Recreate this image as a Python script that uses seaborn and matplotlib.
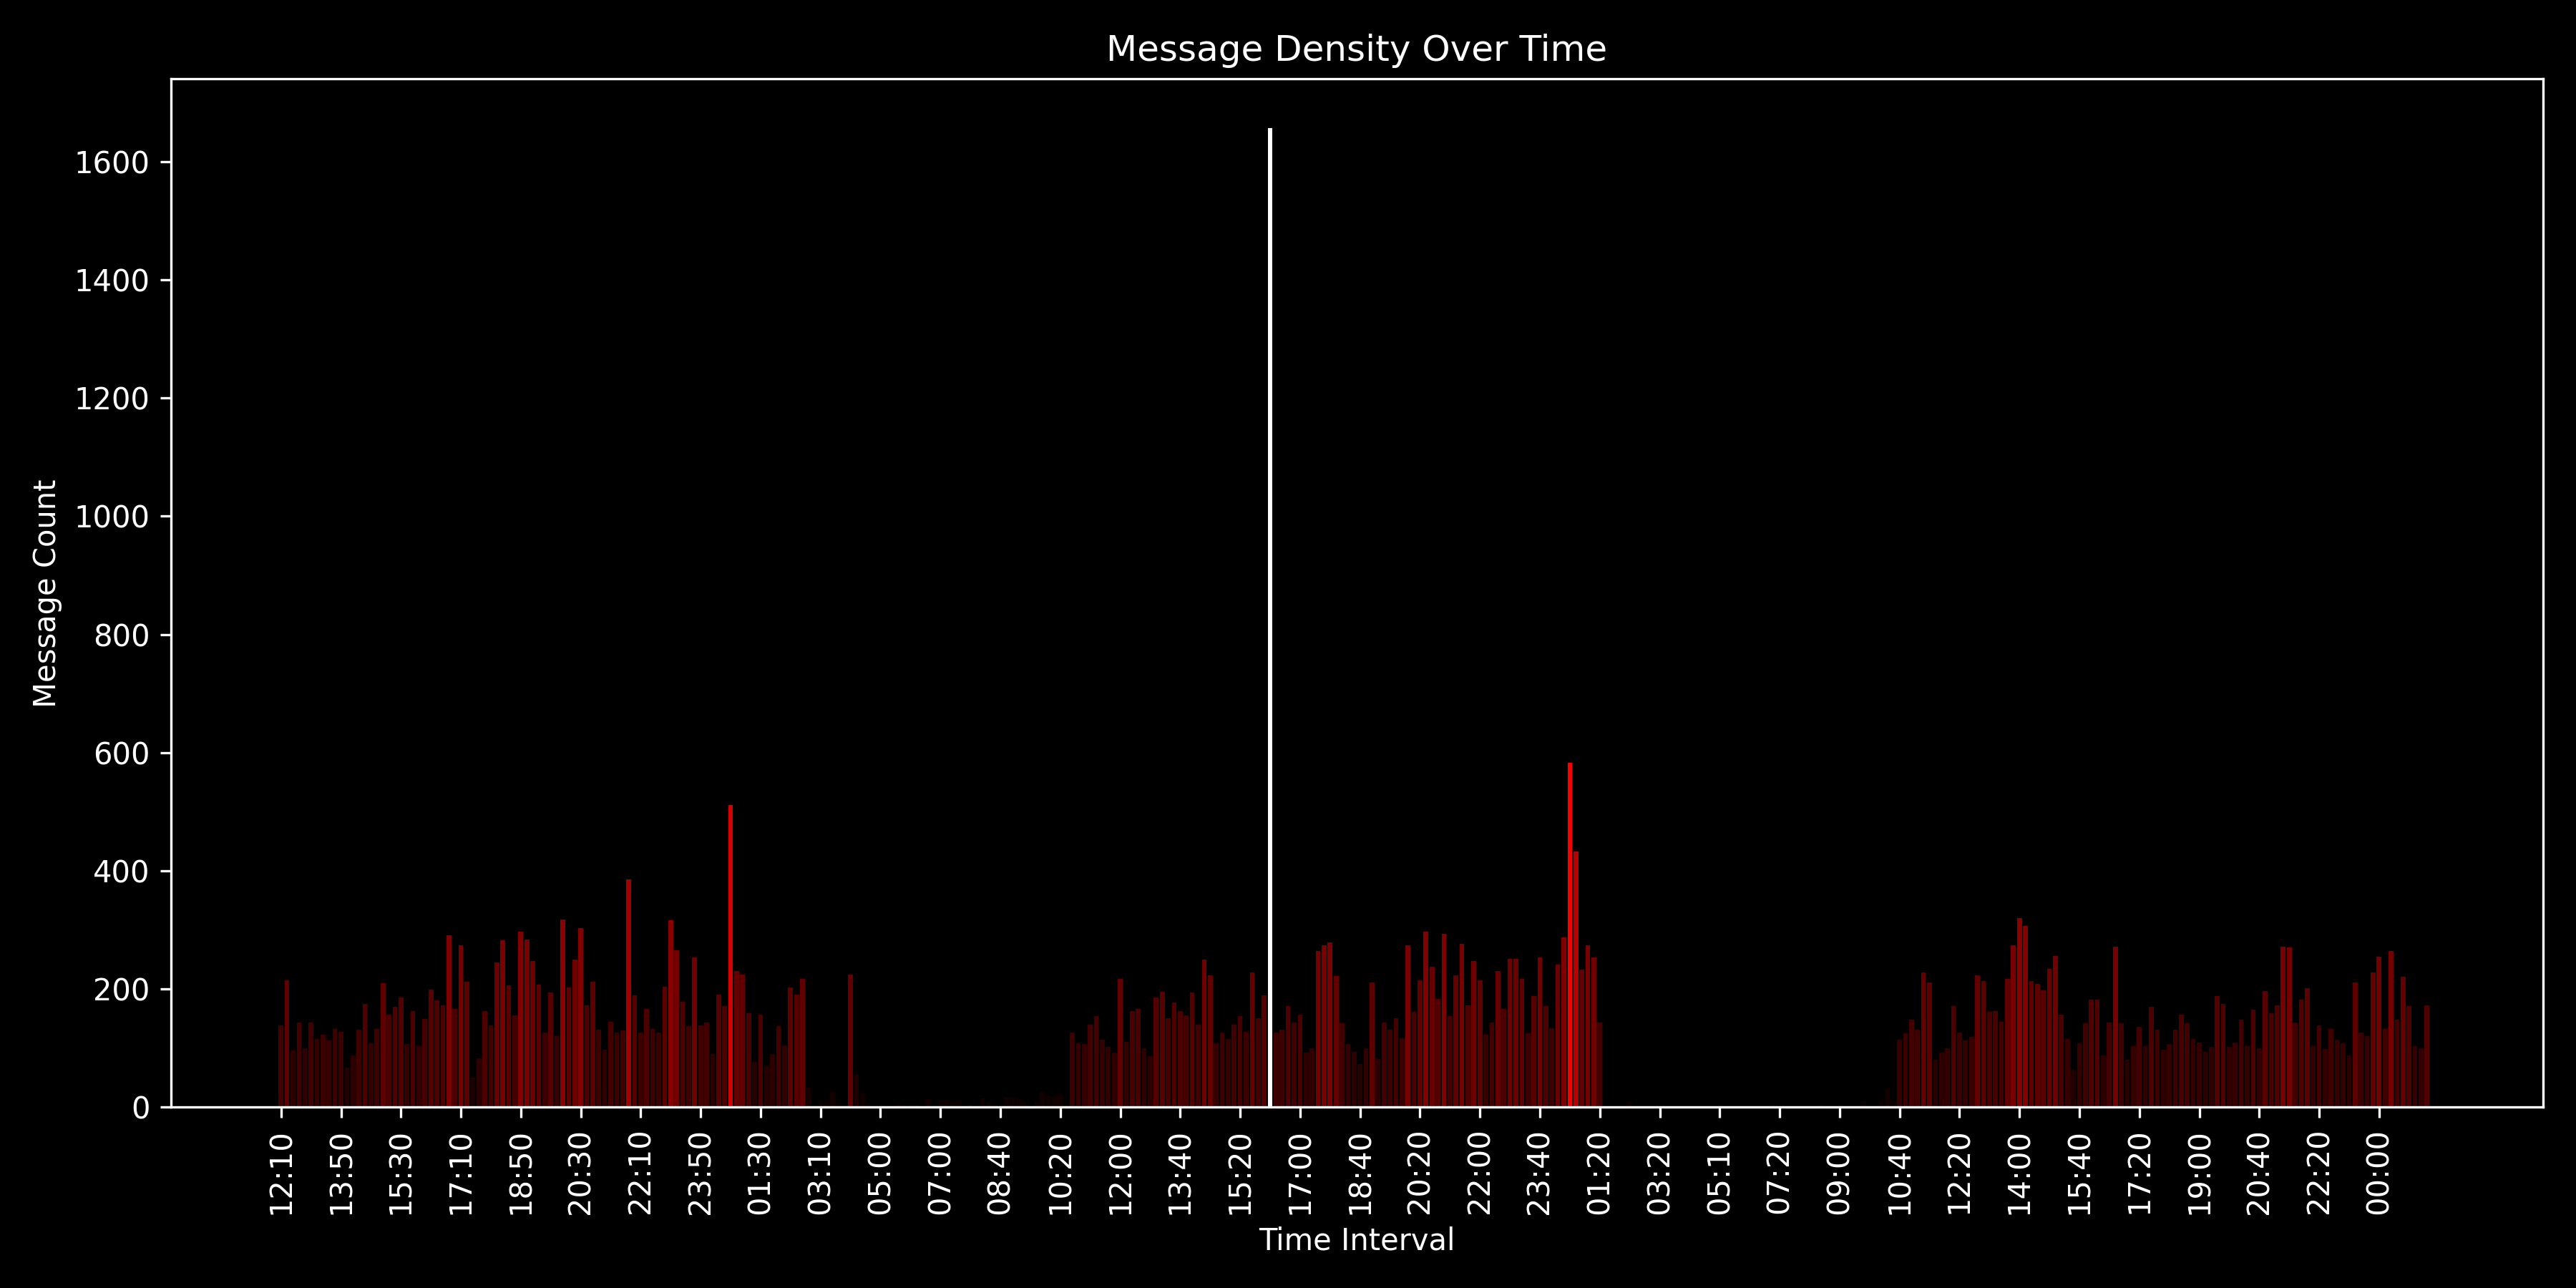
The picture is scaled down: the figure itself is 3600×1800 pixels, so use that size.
import numpy as np
import pandas as pd
import matplotlib
matplotlib.use("Agg")
import matplotlib.pyplot as plt
import seaborn as sns

# ---- data ----
counts_day1 = [138, 215, 96, 144, 100, 144, 115, 123, 113, 133, 128, 67, 88, 131, 175, 108, 133, 210, 157, 170,
               186, 107, 163, 103, 149, 199, 181, 172, 291, 166, 274, 212, 50, 83, 163, 138, 245, 282, 206, 155,
               297, 284, 248, 207, 126, 194, 120, 318, 203, 250, 303, 173, 212, 131, 98, 145, 126, 130, 386, 189,
               126, 166, 133, 127, 204, 317, 266, 178, 137, 253, 138, 143, 90, 190, 171, 511, 230, 224, 159, 77,
               157, 69, 90, 137, 105, 203, 190, 217, 33, 3, 11, 11, 26, 7, 5, 224, 55, 23, 7, 2]
counts_night1 = [1, 0, 0, 7, 4, 4, 4, 1, 14, 3, 11, 13, 10, 12, 1, 6, 0, 15, 9, 4,
                 1, 18, 16, 14, 9, 1, 9, 26, 20, 19, 21, 4]
counts_day2 = [127, 108, 107, 140, 154, 114, 102, 93, 217, 111, 163, 166, 100, 86, 186, 195, 151, 177, 163, 155,
               194, 140, 250, 223, 108, 126, 115, 140, 154, 128, 228, 151, 189, 1657, 126, 131, 171, 143, 157, 93,
               100, 265, 274, 279, 222, 142, 107, 94, 73, 100, 211, 82, 143, 131, 151, 117, 274, 161, 215, 297,
               238, 183, 293, 154, 223, 277, 172, 248, 215, 123, 143, 230, 167, 251, 251, 217, 125, 188, 253, 171,
               134, 242, 288, 583, 433, 233, 274, 253, 144]
counts_night2 = [0, 0, 0, 1, 10, 0, 1, 0, 0, 0, 0, 0, 0, 2, 0, 0, 0, 0, 2, 0,
                 0, 0, 0, 0, 0, 0, 1, 0, 5, 0, 0, 0, 1, 0, 0, 0, 6, 0, 0, 2,
                 0, 0, 0, 10, 0, 0, 11, 31, 11]
counts_day3 = [114, 125, 148, 131, 228, 211, 80, 92, 100, 171, 127, 113, 119, 223, 213, 161, 163, 145, 217, 274,
               320, 307, 213, 209, 198, 234, 256, 157, 116, 63, 108, 142, 182, 182, 88, 143, 272, 142, 80, 104,
               136, 103, 170, 131, 97, 107, 131, 157, 142, 115, 110, 94, 102, 188, 175, 102, 110, 148, 104, 165,
               100, 197, 159, 172, 272, 271, 143, 182, 201, 104, 138, 99, 133, 114, 108, 88, 211, 127, 120, 228,
               255, 132, 265, 148, 221, 171, 104, 100, 172, 0]

tick_labels = ["12:10", "13:50", "15:30", "17:10", "18:50", "20:30", "22:10", "23:50", "01:30", "03:10",
               "05:00", "07:00", "08:40", "10:20", "12:00", "13:40", "15:20", "17:00", "18:40", "20:20",
               "22:00", "23:40", "01:20", "03:20", "05:10", "07:20", "09:00", "10:40", "12:20", "14:00",
               "15:40", "17:20", "19:00", "20:40", "22:20", "00:00"]

counts = np.array(counts_day1 + counts_night1 + counts_day2 + counts_night2 + counts_day3, dtype=float)
n = len(counts)
idx = np.arange(n)
df = pd.DataFrame({"interval": idx, "count": counts})

# ---- plot ----
plt.style.use("dark_background")
fig, ax = plt.subplots(figsize=(12, 6), dpi=300)

sns.barplot(data=df, x="interval", y="count", ax=ax, color="red",
            saturation=1, width=0.8, linewidth=0, errorbar=None)

colors = plt.cm.hot(counts / counts.max())
for p, c in zip(ax.patches, colors):
    p.set_facecolor(c)
    p.set_edgecolor("none")

span = (n - 1) + 0.8
ax.set_xlim(-0.4 - 0.05 * span, (n - 1) + 0.4 + 0.05 * span)
ax.set_ylim(0, counts.max() * 1.05)

ax.set_xticks(np.arange(0, n, 10)[:len(tick_labels)])
ax.set_xticklabels(tick_labels, rotation=90)

ax.set_title("Message Density Over Time")
ax.set_xlabel("Time Interval")
ax.set_ylabel("Message Count")

fig.subplots_adjust(left=0.0663, right=0.9873, top=0.9388, bottom=0.1403)
fig.savefig("out.png", dpi=300, facecolor="black")
